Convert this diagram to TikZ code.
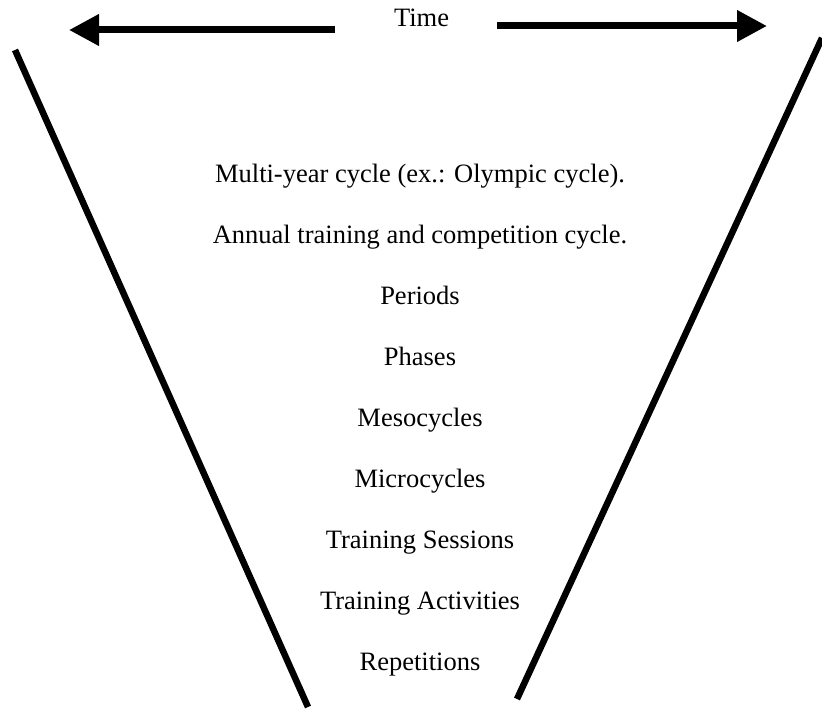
\documentclass[tikz,border=0pt]{standalone}
\usepackage{fontspec}
\setmainfont{Liberation Serif}
\usetikzlibrary{arrows.meta}
\begin{document}
\begin{tikzpicture}[x=1pt,y=-1pt,
  every node/.style={inner sep=0pt,anchor=base,font=\fontsize{26.5}{30}\selectfont},
  funnelside/.style={line width=6.5pt},
  timearrow/.style={line width=7pt,-{Triangle[length=30pt,width=30pt]}}]

  \useasboundingbox (0,0) rectangle (822,709);

  \node (time) at (421.5,27) {Time};
  \coordinate (pastfrom) at (335,30);
  \coordinate (pastto) at (69,30);
  \coordinate (futfrom) at (497,26);
  \coordinate (futto) at (767,26);
  \draw[timearrow] (pastfrom) -- (pastto);
  \draw[timearrow] (futfrom) -- (futto);

  \foreach \txt [count=\i from 0] in {Multi-year cycle (ex.: Olympic cycle).,
    Annual training and competition cycle.,Periods,Phases,Mesocycles,
    Microcycles,Training Sessions,Training Activities,Repetitions}{
  \node (level\i) at (420,182+61*\i) {\txt};
  }

  \coordinate (lefttop) at (15,50);
  \coordinate (leftbot) at (308,707);
  \coordinate (righttop) at (822,38);
  \coordinate (rightbot) at (517,699);
  \draw[funnelside] (lefttop) -- (leftbot);
  \draw[funnelside] (righttop) -- (rightbot);

\end{tikzpicture}
\end{document}
